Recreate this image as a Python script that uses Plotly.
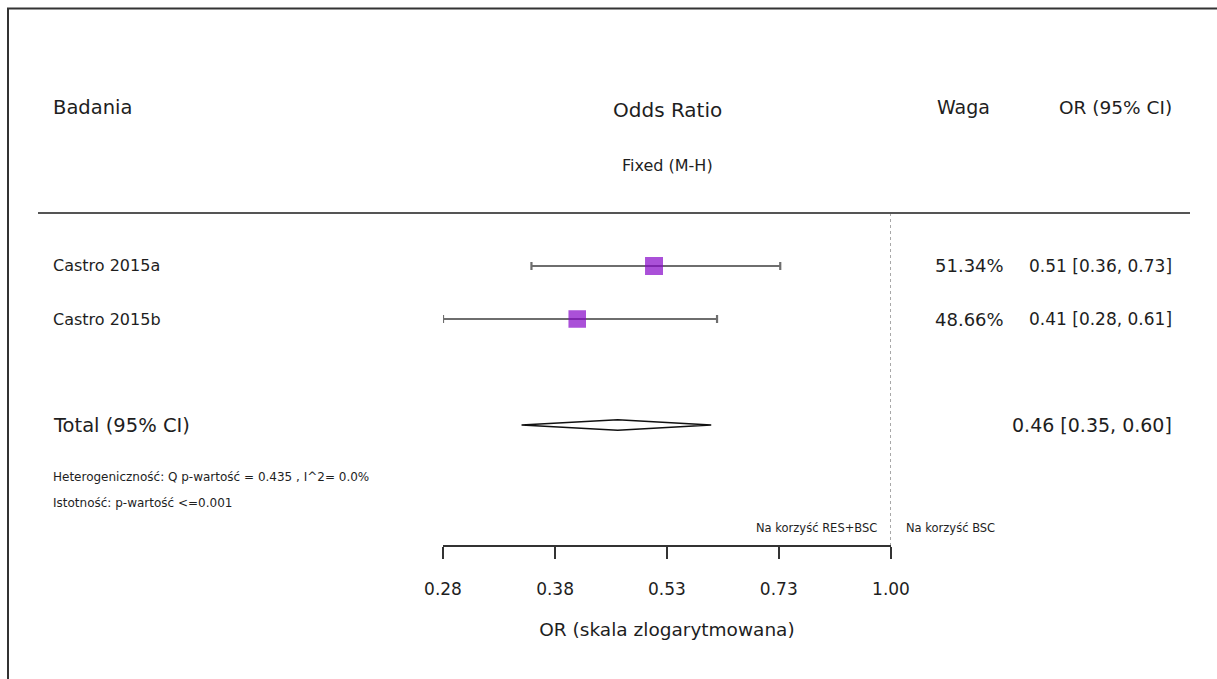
import numpy as np
import plotly.graph_objects as go

# Study-level results
studies = ["Castro 2015a", "Castro 2015b"]
odds_ratio = [0.51, 0.41]
ci_lower = [0.36, 0.28]
ci_upper = [0.73, 0.61]
weights = [51.34, 48.66]

# Pooled (fixed effect, Mantel-Haenszel) estimate
total_label = "Total (95% CI)"
total_or = 0.46
total_lower = 0.35
total_upper = 0.60

tick_values = [0.28, 0.385, 0.529, 0.727, 1.0]
tick_labels = ["0.28", "0.38", "0.53", "0.73", "1.00"]

heterogeneity = "Heterogeniczność: Q p-wartość = 0.435 , I^2= 0.0%"
significance = "Istotność: p-wartość <=0.001"

W, H = 1217, 679
FONT = "'DejaVu Sans', sans-serif"
TXT = "#1e1e1e"

study_rows = [0, 1]
total_row = 3


def px(x):
    return x / W


def py(y):
    return 1 - y / H


fig = go.Figure()

# Study estimates with confidence intervals
sizes = [18 * np.sqrt(w / max(weights)) for w in weights]
fig.add_trace(go.Scatter(
    x=odds_ratio, y=study_rows, mode="markers",
    marker=dict(symbol="square", size=sizes, color="#8605c8",
                line=dict(width=0)),
    error_x=dict(type="data", symmetric=False,
                 array=[u - o for u, o in zip(ci_upper, odds_ratio)],
                 arrayminus=[o - l for o, l in zip(odds_ratio, ci_lower)],
                 color="#6e6e6e", thickness=2.2, width=4),
    cliponaxis=False, hoverinfo="skip", showlegend=False,
))

# Pooled diamond
dh = 0.1
fig.add_trace(go.Scatter(
    x=[total_lower, total_or, total_upper, total_or, total_lower],
    y=[total_row, total_row - dh, total_row, total_row + dh, total_row],
    mode="lines", fill="toself", fillcolor="white",
    line=dict(color="#111111", width=1.6),
    hoverinfo="skip", showlegend=False, cliponaxis=False,
))

# Line of no effect
fig.add_trace(go.Scatter(
    x=[1.0, 1.0], y=[-1.0, 5.3], mode="lines",
    line=dict(color="#7a7a7a", width=1.3, dash="dot"),
    hoverinfo="skip", showlegend=False, cliponaxis=False,
))

row_px0, row_step = 266, 53
y_top = -row_px0 / row_step
y_bot = (H - row_px0) / row_step
x0_px, x1_px = 443, 891
axis_y_px = 546

fig.update_layout(
    width=W, height=H, autosize=False,
    margin=dict(l=0, r=0, t=0, b=0, pad=0, autoexpand=False),
    paper_bgcolor="white", plot_bgcolor="rgba(0,0,0,0)",
    font=dict(family=FONT, color=TXT),
    xaxis=dict(
        type="log", domain=[px(x0_px), px(x1_px)],
        range=[np.log10(0.28), 0.0],
        anchor="free", position=py(axis_y_px), automargin=False,
        showgrid=False, zeroline=False,
        showline=True, linecolor="#333333", linewidth=1.5,
        ticks="outside", ticklen=12, tickwidth=1.5, tickcolor="#333333",
        tickvals=tick_values, ticktext=tick_labels,
        tickfont=dict(size=17, family=FONT, color=TXT),
        ticklabelstandoff=16,
        title=dict(text="OR (skala zlogarytmowana)", standoff=24,
                   font=dict(size=18.5, family=FONT, color=TXT)),
    ),
    yaxis=dict(
        domain=[0, 1], range=[y_bot, y_top], automargin=False,
        visible=False, showgrid=False, zeroline=False,
    ),
)

# Frame and header rule
fig.add_shape(type="line", xref="paper", yref="paper",
              x0=px(7), x1=1, y0=py(8.5), y1=py(8.5),
              line=dict(color="#333333", width=2))
fig.add_shape(type="line", xref="paper", yref="paper",
              x0=px(8), x1=px(8), y0=py(8), y1=0,
              line=dict(color="#333333", width=2))
fig.add_shape(type="line", xref="paper", yref="paper",
              x0=px(38), x1=px(1190), y0=py(213), y1=py(213),
              line=dict(color="#555555", width=2))


def label(text, x, y, size, anchor="left"):
    fig.add_annotation(text=text, xref="paper", yref="paper",
                       x=px(x), y=py(y), xanchor=anchor, yanchor="middle",
                       showarrow=False,
                       font=dict(size=size, family=FONT, color=TXT))


# Column headers
label("Badania", 51, 107, 19.5)
label("Odds Ratio", 667, 110, 20, "center")
label("Fixed (M-H)", 667, 165, 16, "center")
label("Waga", 963, 107, 19, "center")
label("OR (95% CI)", 1174, 107, 18.5, "right")

# Study rows
for name, o, lo, hi, w, r in zip(studies, odds_ratio, ci_lower, ci_upper,
                                 weights, study_rows):
    yy = row_px0 + row_step * r
    label(name, 51, yy, 16)
    label(f"{w:.2f}%", 1006, yy, 18, "right")
    label(f"{o:.2f} [{lo:.2f}, {hi:.2f}]", 1174, yy, 17, "right")

# Pooled row
yt = row_px0 + row_step * total_row
label(total_label, 51, yt, 19.5)
label(f"{total_or:.2f} [{total_lower:.2f}, {total_upper:.2f}]", 1174, yt, 19, "right")

# Footnotes
label(heterogeneity, 51, 477, 12)
label(significance, 51, 503, 12)

# Direction labels
label("Na korzyść RES+BSC", 879, 528, 11.5, "right")
label("Na korzyść BSC", 904, 528, 11.5, "left")

fig.write_html(
    "out.html",
    config={"responsive": False},
    post_script="document.body.style.margin='0';"
                "document.body.style.overflow='hidden';",
)
